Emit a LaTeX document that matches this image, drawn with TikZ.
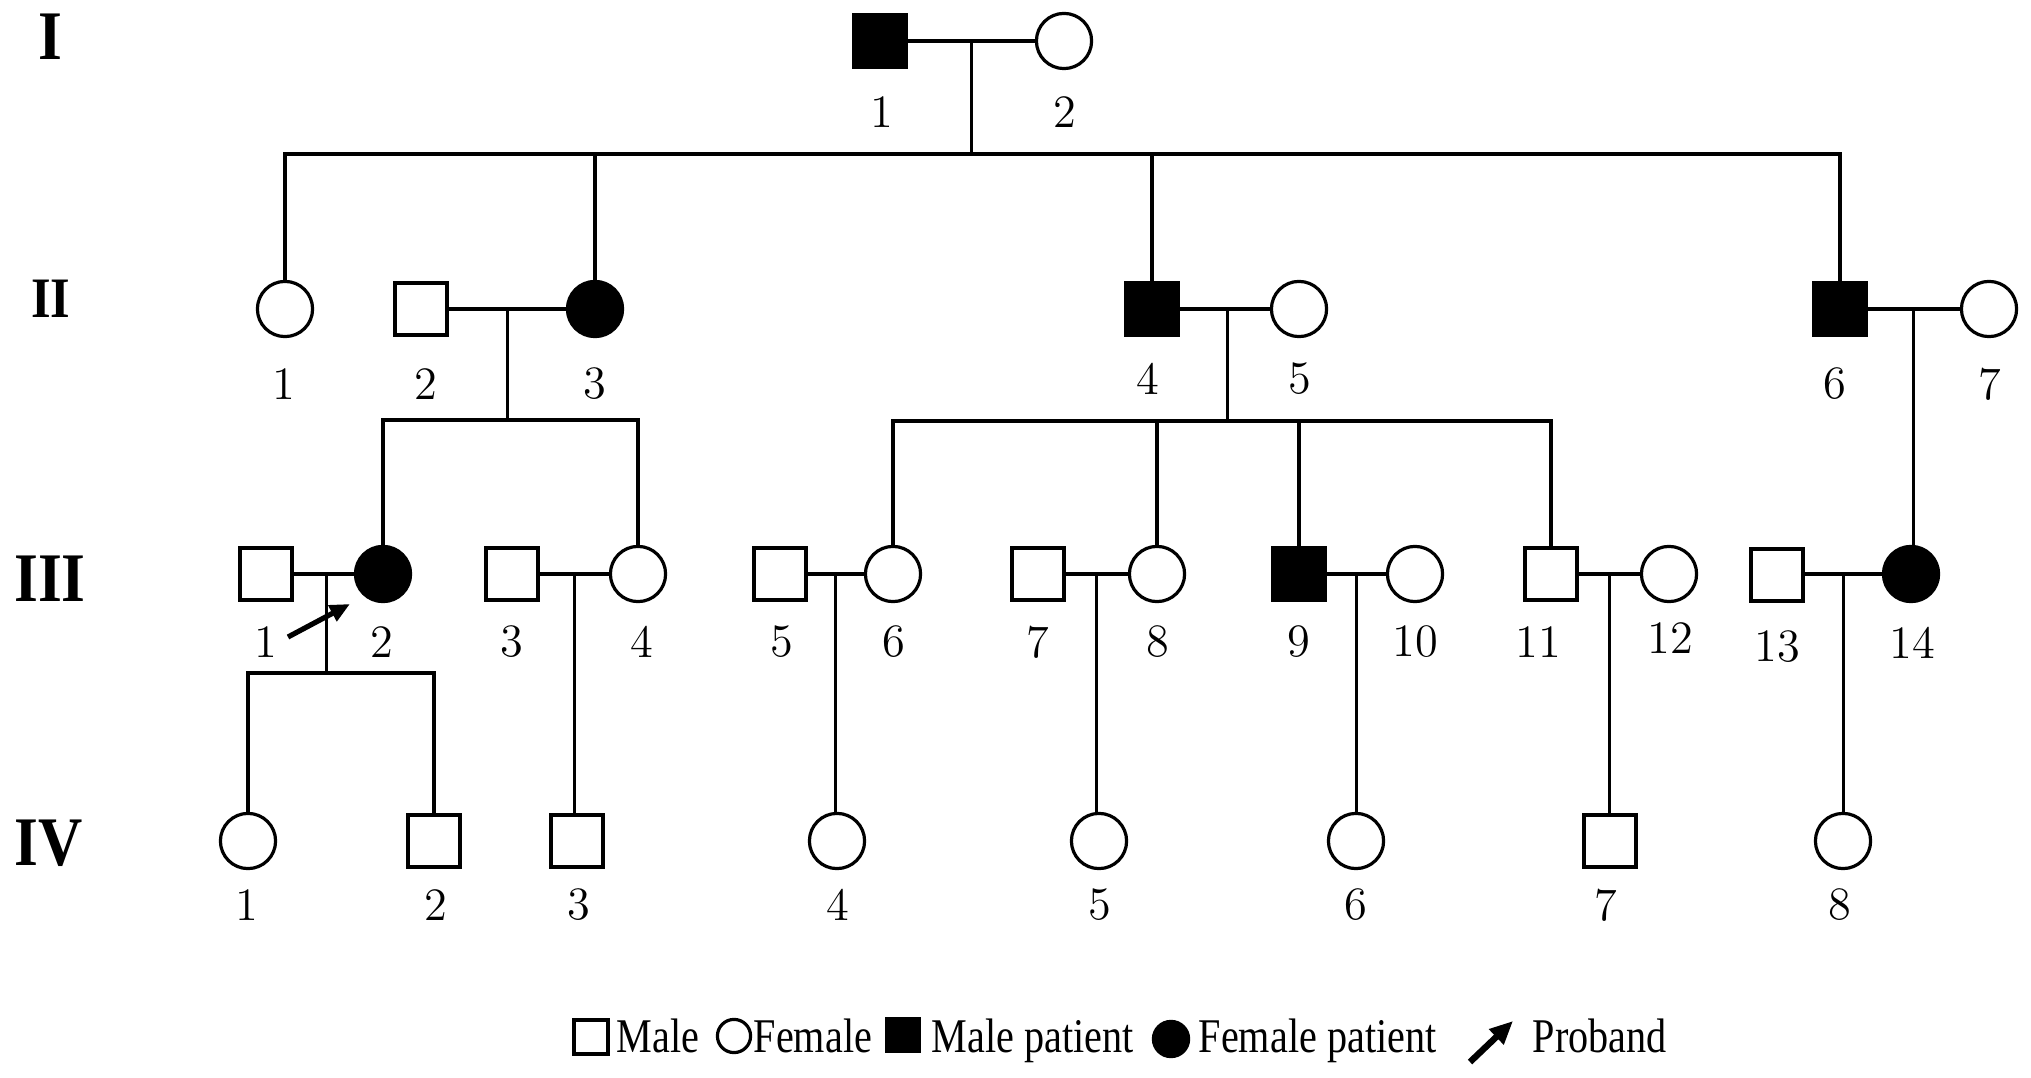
\documentclass[tikz,border=0pt]{standalone}
\usepackage{fontspec}
\usepackage{graphicx}
\usetikzlibrary{arrows.meta,calc}
\newfontfamily\genfont[FakeStretch=0.88]{Liberation Serif}
\newfontfamily\legfont[FakeStretch=0.83]{Liberation Serif}
\begin{document}
\begin{tikzpicture}[x=0.25pt,y=-0.25pt,
  male/.style={draw,rectangle,minimum size=13pt,inner sep=0pt,line width=0.8pt},
  female/.style={draw,circle,minimum size=13.8pt,inner sep=0pt,line width=0.8pt},
  aff/.style={fill=black},
  num/.style={inner sep=0pt,font=\fontsize{11.6pt}{14pt}\selectfont},
  gen/.style={inner sep=0pt,font=\genfont\bfseries\fontsize{17.4pt}{20pt}\selectfont},
  leg/.style={inner sep=0pt,anchor=base west,font=\legfont\fontsize{12.1pt}{14pt}\selectfont},
  rel/.style={line width=0.8pt},
  proband/.style={line width=1.3pt,-{Triangle[length=5pt,width=4.3pt]}},
  legarrow/.style={line width=1.6pt,-{Triangle[length=5.8pt,width=5pt]}}
]
\useasboundingbox (0,0) rectangle (2031,1078);

% generation labels
\node[gen] (gI) at (50,37) {I};
\node[gen,font=\genfont\bfseries\fontsize{14.3pt}{17pt}\selectfont] (gII) at (51,299) {II};
\node[gen] (gIII) at (50,579) {III};
\node[gen] (gIV) at (49,843) {IV};

% generation I
\node[male,aff] (I1) at (880,41) {};
\node[female] (I2) at (1064,41) {};
\node[num] (lI1) at (882,112) {1};
\node[num] (lI2) at (1065,112) {2};

% generation II
\node[female] (II1) at (285,309) {};
\node[male] (II2) at (421,309) {};
\node[female,aff] (II3) at (595,309) {};
\node[male,aff] (II4) at (1152,309) {};
\node[female] (II5) at (1299,309) {};
\node[male,aff] (II6) at (1840,309) {};
\node[female] (II7) at (1989,309) {};
\node[num] (lII1) at (284,384) {1};
\node[num] (lII2) at (426,384) {2};
\node[num] (lII3) at (595,384) {3};
\node[num] (lII4) at (1148,379) {4};
\node[num] (lII5) at (1300,379) {5};
\node[num] (lII6) at (1835,384) {6};
\node[num] (lII7) at (1990,384) {7};

% generation III
\node[male] (III1) at (266,574) {};
\node[female,aff] (III2) at (383,574) {};
\node[male] (III3) at (512,574) {};
\node[female] (III4) at (638,574) {};
\node[male] (III5) at (780,574) {};
\node[female] (III6) at (893,574) {};
\node[male] (III7) at (1038,574) {};
\node[female] (III8) at (1157,574) {};
\node[male,aff] (III9) at (1299,574) {};
\node[female] (III10) at (1415,574) {};
\node[male] (III11) at (1551,574) {};
\node[female] (III12) at (1669,574) {};
\node[male] (III13) at (1777,575) {};
\node[female,aff] (III14) at (1911,574) {};
\node[num] (lIII1) at (266,642) {1};
\node[num] (lIII2) at (382,642) {2};
\node[num] (lIII3) at (512,642) {3};
\node[num] (lIII4) at (642,642) {4};
\node[num] (lIII5) at (782,642) {5};
\node[num] (lIII6) at (894,642) {6};
\node[num] (lIII7) at (1038,642) {7};
\node[num] (lIII8) at (1158,642) {8};
\node[num] (lIII9) at (1299,642) {9};
\node[num] (lIII10) at (1415,642) {10};
\node[num] (lIII11) at (1538,642) {11};
\node[num] (lIII12) at (1670,638) {12};
\node[num] (lIII13) at (1777,647) {13};
\node[num] (lIII14) at (1912,643) {14};

% generation IV
\node[female] (IV1) at (248,841) {};
\node[male] (IV2) at (434,841) {};
\node[male] (IV3) at (577,841) {};
\node[female] (IV4) at (837,841) {};
\node[female] (IV5) at (1099,841) {};
\node[female] (IV6) at (1356,841) {};
\node[male] (IV7) at (1610,841) {};
\node[female] (IV8) at (1843,841) {};
\node[num] (lIV1) at (247,905) {1};
\node[num] (lIV2) at (436,905) {2};
\node[num] (lIV3) at (579,905) {3};
\node[num] (lIV4) at (838,905) {4};
\node[num] (lIV5) at (1100,905) {5};
\node[num] (lIV6) at (1356,905) {6};
\node[num] (lIV7) at (1606,905) {7};
\node[num] (lIV8) at (1840,905) {8};

% --- connectors, generation I
\draw[rel] (I1) -- (I2);
\coordinate (mI) at ($(I1.east)!0.5!(I2.west)$);
\coordinate (sI) at ($(mI)+(0,113)$);
\draw[rel] (mI) -- (sI);
\draw[rel] (II1.north) -- (II1.north |- sI) -- (II6.north |- sI) -- (II6.north);
\draw[rel] (II3.north |- sI) -- (II3.north);
\draw[rel] (II4.north |- sI) -- (II4.north);

% --- generation II
\draw[rel] (II2) -- (II3);
\coordinate (mII23) at ($(II2.east)!0.5!(II3.west)$);
\coordinate (sII23) at ($(mII23)+(0,111)$);
\draw[rel] (mII23) -- (sII23);
\draw[rel] (III2.north) -- (III2.north |- sII23) -- (III4.north |- sII23) -- (III4.north);

\draw[rel] (II4) -- (II5);
\coordinate (mII45) at ($(II4.east)!0.5!(II5.west)+(3,0)$);
\coordinate (sII45) at ($(mII45)+(0,112)$);
\draw[rel] (mII45) -- (sII45);
\draw[rel] (III6.north) -- (III6.north |- sII45) -- (III11.north |- sII45) -- (III11.north);
\draw[rel] (III8.north |- sII45) -- (III8.north);
\draw[rel] (III9.north |- sII45) -- (III9.north);

\draw[rel] (II6) -- (II7);
\coordinate (mII67) at ($(II6.east)!0.5!(II7.west)$);
\draw[rel] (mII67) -- (mII67 |- III14.north);

% --- generation III
\draw[rel] (III1) -- (III2);
\coordinate (mIII12) at ($(III1.east)!0.5!(III2.west)+(3,0)$);
\coordinate (sIII12) at ($(mIII12)+(0,99)$);
\draw[rel] (mIII12) -- (sIII12);
\draw[rel] (IV1.north) -- (IV1.north |- sIII12) -- (IV2.north |- sIII12) -- (IV2.north);

\draw[rel] (III3) -- (III4);
\coordinate (mIII34) at ($(III3.east)!0.5!(III4.west)$);
\draw[rel] (mIII34) -- (mIII34 |- IV3.north);

\draw[rel] (III5) -- (III6);
\coordinate (mIII56) at ($(III5.east)!0.5!(III6.west)$);
\draw[rel] (mIII56) -- (mIII56 |- IV4.north);

\draw[rel] (III7) -- (III8);
\coordinate (mIII78) at ($(III7.east)!0.5!(III8.west)$);
\draw[rel] (mIII78) -- (mIII78 |- IV5.north);

\draw[rel] (III9) -- (III10);
\coordinate (mIII910) at ($(III9.east)!0.5!(III10.west)$);
\draw[rel] (mIII910) -- (mIII910 |- IV6.north);

\draw[rel] (III11) -- (III12);
\coordinate (mIII1112) at ($(III11.east)!0.5!(III12.west)$);
\draw[rel] (mIII1112) -- (mIII1112 |- IV7.north);

\draw[rel] (III13.east |- III14) -- (III14);
\coordinate (mIII1314) at ($(III13.east)!0.5!(III14.west)$);
\draw[rel] (mIII1314 |- III14) -- (mIII1314 |- IV8.north);

% proband arrow
\coordinate (pbs) at (288,637);
\coordinate (pbe) at (350,604);
\draw[proband] (pbs) -- (pbe);

% --- legend
\node[male,minimum size=8.5pt] (lgM) at (591,1037) {};
\node[leg] (tM) at (616,1052) {Male};
\node[female,minimum size=8.3pt] (lgF) at (734,1036) {};
\node[leg] (tF) at (753,1052) {Female};
\node[male,aff,minimum size=8.3pt] (lgMP) at (903,1035) {};
\node[leg] (tMP) at (931,1052) {Male patient};
\node[female,aff,minimum size=8.8pt] (lgFP) at (1171,1039) {};
\node[leg] (tFP) at (1198,1052) {Female patient};
\coordinate (lgAs) at (1470,1062);
\coordinate (lgAe) at (1513,1021);
\draw[legarrow] (lgAs) -- (lgAe);
\node[leg] (tP) at (1532,1052) {Proband};
\end{tikzpicture}
\end{document}
